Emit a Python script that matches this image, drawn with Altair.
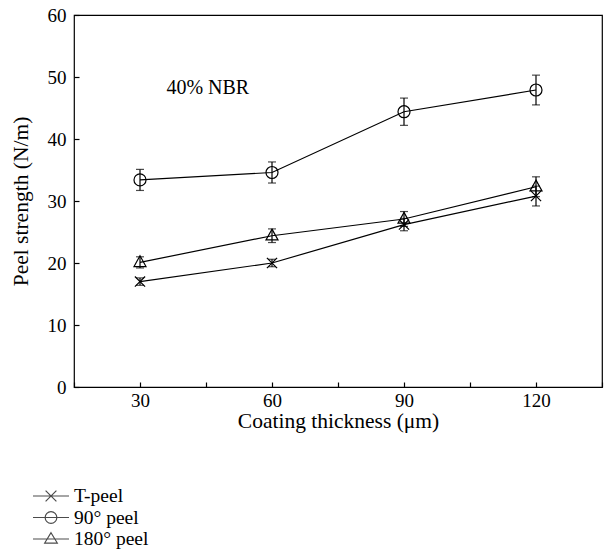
import altair as alt
import pandas as pd

# ---- data ----
thickness = [30, 60, 90, 120]
series_names = ["T-peel", "90° peel", "180° peel"]
t_peel = [17.0, 20.0, 26.2, 30.8]
t_peel_err = [0.6, 0.6, 1.0, 1.6]
peel_90 = [33.4, 34.6, 44.4, 47.9]
peel_90_err = [1.7, 1.7, 2.2, 2.4]
peel_180 = [20.1, 24.4, 27.1, 32.3]
peel_180_err = [0.9, 1.1, 1.2, 1.6]

x_tick_labels = [30, 60, 90, 120]
x_tick_marks = [15, 30, 45, 60, 75, 90, 105, 120, 135]
y_ticks = [0, 10, 20, 30, 40, 50, 60]

annotation_text = ["40% NBR"]
annotation_x = [36]
annotation_y = [48.3]

# ---- styles ----
FONT = "Liberation Serif"
FS = 19
TFS = 21.5
LFS = 19.5
marker_paths = [
    "M-0.85,-0.85L0.85,0.85M-0.85,0.85L0.85,-0.85",
    "M1,0A1,1,0,1,1,-1,0A1,1,0,1,1,1,0",
    "M0,-1.1L1,0.7L-1,0.7Z",
]
legend_paths = [
    "M-2,0H2M-0.6,-0.6L0.6,0.6M-0.6,0.6L0.6,-0.6",
    "M-2,0H2M0.65,0A0.65,0.65,0,1,1,-0.65,0A0.65,0.65,0,1,1,0.65,0",
    "M-2,0H2M0,-0.7L0.7,0.45L-0.7,0.45Z",
]

rows = []
for name, vals, errs in [("T-peel", t_peel, t_peel_err),
                         ("90° peel", peel_90, peel_90_err),
                         ("180° peel", peel_180, peel_180_err)]:
    for x, v, e in zip(thickness, vals, errs):
        rows.append({"series": name, "thickness": x, "strength": v,
                     "lo": v - e, "hi": v + e})
df = pd.DataFrame(rows)
ann = pd.DataFrame({"text": annotation_text, "x": annotation_x, "y": annotation_y})

xscale = alt.Scale(domain=[15, 135], nice=False, zero=False)
yscale = alt.Scale(domain=[0, 60], nice=False)

base = alt.Chart(df)

lines = base.mark_line(color="black", strokeWidth=1.2).encode(
    x=alt.X("thickness:Q", scale=xscale,
            axis=alt.Axis(values=x_tick_labels, ticks=False, tickSize=0, domain=False,
                          grid=False, labelPadding=4, title="Coating thickness (μm)",
                          titlePadding=0, orient="bottom")),
    y=alt.Y("strength:Q", scale=yscale,
            axis=alt.Axis(values=y_ticks, ticks=False, tickSize=0, domain=False,
                          grid=False, labelPadding=8, title="Peel strength (N/m)",
                          titlePadding=15, orient="left")),
    detail="series:N",
)

err_rule = base.mark_rule(color="black", strokeWidth=1.2).encode(
    x=alt.X("thickness:Q", scale=xscale, axis=None),
    y=alt.Y("lo:Q", scale=yscale, axis=None),
    y2="hi:Q",
)
err_lo = base.mark_tick(color="black", orient="horizontal", size=8, thickness=1.2).encode(
    x=alt.X("thickness:Q", scale=xscale, axis=None),
    y=alt.Y("lo:Q", scale=yscale, axis=None),
)
err_hi = base.mark_tick(color="black", orient="horizontal", size=8, thickness=1.2).encode(
    x=alt.X("thickness:Q", scale=xscale, axis=None),
    y=alt.Y("hi:Q", scale=yscale, axis=None),
)

points = base.mark_point(filled=False, color="black", strokeWidth=1.2, size=144, opacity=1).encode(
    x=alt.X("thickness:Q", scale=xscale,
            axis=alt.Axis(values=x_tick_marks, labels=False, domain=False, grid=False,
                          ticks=True, tickSize=5, tickColor="black", tickWidth=1.2,
                          offset=-5, title=None, orient="bottom")),
    y=alt.Y("strength:Q", scale=yscale,
            axis=alt.Axis(values=y_ticks, labels=False, domain=False, grid=False,
                          ticks=True, tickSize=5, tickColor="black", tickWidth=1.2,
                          offset=-5, title=None, orient="left")),
    shape=alt.Shape("series:N", scale=alt.Scale(domain=series_names, range=marker_paths),
                    legend=None),
)

legend_layer = base.mark_point(filled=False, color="black", strokeWidth=1.2, size=324).encode(
    shape=alt.Shape("series:N",
                    scale=alt.Scale(domain=series_names, range=legend_paths),
                    legend=alt.Legend(orient="none", legendX=-33, legendY=471, title=None,
                                      symbolSize=324, symbolStrokeWidth=1.2,
                                      symbolStrokeColor="black", labelFont=FONT,
                                      labelFontSize=LFS, labelColor="black",
                                      labelOffset=13, rowPadding=1.5, padding=0)),
).transform_filter("false")

text = alt.Chart(ann).mark_text(align="left", baseline="middle", font=FONT,
                                fontSize=20, color="black").encode(
    x=alt.X("x:Q", scale=xscale, axis=None),
    y=alt.Y("y:Q", scale=yscale, axis=None),
    text="text:N",
)

chart = alt.layer(lines, err_rule, err_lo, err_hi, points, legend_layer, text).resolve_scale(
    shape="independent"
).resolve_axis(
    x="independent", y="independent"
).properties(
    width=528, height=372,
    autosize=alt.AutoSizeParams(type="none"),
    padding={"left": 74, "top": 15, "right": 3, "bottom": 165},
    background="white",
).configure_view(
    stroke="black", strokeWidth=1.2
).configure_axis(
    labelFont=FONT, labelFontSize=FS, labelColor="black",
    titleFont=FONT, titleFontSize=TFS, titleColor="black", titleFontWeight="normal",
)

chart.save("out.html", embed_options={"renderer": "svg", "actions": False})
